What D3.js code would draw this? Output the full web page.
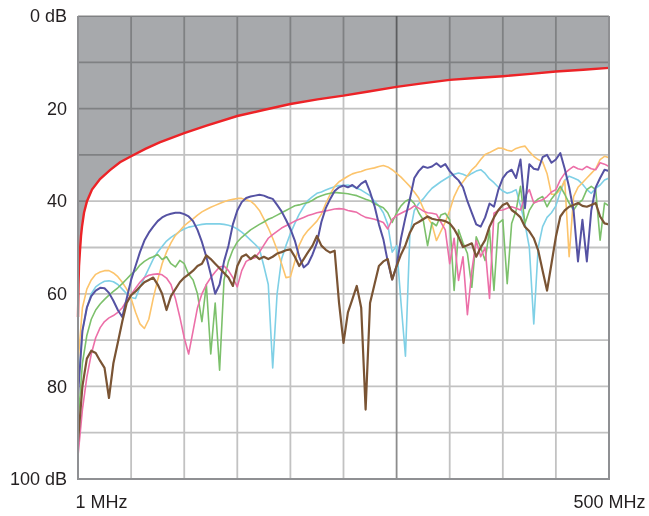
<!DOCTYPE html>
<html>
  <head>
    <script src="https://cdn.jsdelivr.net/npm/d3@7"></script>
    <style>
      body { margin: 0; background: #fff; }
      .tick text { font-family: "Liberation Sans", Arial, sans-serif; font-size: 18px; fill: #231f20; }
    </style>
  </head>
  <body>
    <script>
      // sample grid shared by every trace (MHz, log spaced)
      const freqMHz = [
        1.000, 1.053, 1.109, 1.168, 1.230, 1.296, 1.364, 1.437, 1.513, 1.594, 1.679, 1.768,
        1.862, 1.961, 2.065, 2.175, 2.291, 2.412, 2.541, 2.676, 2.818, 2.968, 3.126, 3.292,
        3.467, 3.651, 3.845, 4.049, 4.264, 4.491, 4.729, 4.981, 5.245, 5.524, 5.818, 6.127,
        6.452, 6.795, 7.156, 7.537, 7.937, 8.359, 8.803, 9.271, 9.764, 10.28, 10.83, 11.40,
        12.01, 12.65, 13.32, 14.03, 14.77, 15.56, 16.38, 17.26, 18.17, 19.14, 20.16, 21.23,
        22.36, 23.55, 24.80, 26.12, 27.51, 28.97, 30.51, 32.13, 33.84, 35.64, 37.53, 39.53,
        41.63, 43.84, 46.17, 48.63, 51.21, 53.93, 56.80, 59.82, 63.00, 66.35, 69.87, 73.59,
        77.50, 81.62, 85.96, 90.53, 95.34, 100.4, 105.7, 111.4, 117.3, 123.5, 130.1, 137.0,
        144.3, 151.9, 160.0, 168.5, 177.5, 186.9, 196.8, 207.3, 218.3, 229.9, 242.1, 255.0,
        268.5, 282.8, 297.8, 313.6, 330.3, 347.8, 366.3, 385.8, 406.3, 427.9, 450.6, 474.5,
        500
      ];

      // limit line
      const limitFreq = [1, 1.006, 1.012, 1.024, 1.036, 1.048, 1.073, 1.111, 1.178, 1.294, 1.454, 1.635,
        1.862, 2.2, 2.6, 3.467, 4.5, 6.452, 9, 12.01, 16.5, 22.36, 30, 41.63, 55, 77.5, 105, 144.3,
        200, 268.5, 370, 500];
      const limitDb = [65, 58, 54, 50.5, 47.5, 45.5, 42.5, 40, 37.5, 35.2, 33.3, 31.6,
        30.3, 28.7, 27.3, 25.3, 23.7, 21.6, 20.2, 19, 18, 17.2, 16.3, 15.3, 14.6, 13.8, 13.4, 13,
        12.5, 12, 11.6, 11.2];

      const blueDb = [
        82, 68, 63, 60.5, 59.3, 58.7, 58.8, 59.8, 61.5, 63.5, 65, 61,
        57, 54, 51, 48.5, 46.8, 45.5, 44.3, 43.5, 43, 42.7, 42.5, 42.5,
        42.8, 43.3, 44.3, 46.2, 48.8, 52, 55.8, 60, 58, 53, 49.6, 45,
        42, 40.2, 39.3, 39, 38.8, 38.6, 38.8, 39.2, 39.5, 40.8, 42.2, 44,
        46, 48.5, 52, 54.3, 53.5, 51.5, 49, 44.5, 41.5, 39.5, 37.8, 37,
        36.6, 37, 36.5, 37.2, 36.2, 35.6, 38, 41, 45, 48.2, 53, 56.9,
        54, 48, 43.5, 39.5, 35, 33.5, 32.5, 32.8, 32.5, 31.8, 32.6, 32,
        33.5, 34.6, 35.5, 37, 40, 42.5, 45, 45.5, 43.5, 40.5, 41.2, 37.5,
        35, 33.8, 33.2, 35, 31, 41.5, 32, 33, 33.2, 30.5, 30, 31.7,
        31, 29.6, 33, 37, 42, 53, 44, 53, 42, 37, 35, 33.2,
        33.5
      ];
      const orangeDb = [
        75, 63, 59, 57, 55.8, 55.3, 55, 55, 55.5, 56.3, 57.5, 59,
        61, 64, 66.5, 67.5, 65.5, 61, 57, 53.5, 51, 49, 47.4, 46.4,
        45.3, 44.5, 43.8, 43, 42.3, 41.8, 41.3, 40.9, 40.5, 40.1, 39.8, 39.6,
        39.4, 39.4, 39.7, 40, 40.8, 42, 43.8, 45.8, 48, 50.5, 53.5, 56.5,
        56.3, 53, 49.5, 47.5, 46.3, 45.3, 44.3, 42.8, 40.5, 38.5, 36.8, 35.8,
        35.2, 34.6, 34.1, 33.8, 33.6, 33.2, 33, 32.8, 32.5, 32.3, 32.6, 33.2,
        34, 34.8, 35.8, 36.8, 38, 39.3, 41.5, 43.5, 45, 48.5, 46.5, 44.5,
        42, 39, 37, 35.8, 34.5, 33.2, 32.3, 31, 29.9, 29.5, 29, 28.5,
        28.6, 29, 29.2, 28.6, 28.3, 28.1, 29.3, 30.3, 31, 31.5, 34, 38.5,
        38.5, 37.5, 35.5, 52, 39, 37, 36, 35, 34, 33, 31, 30.3,
        30.6
      ];
      const cyanDb = [
        80, 68, 63, 60, 58.5, 57.8, 57.3, 57.2, 57.4, 58, 59, 60,
        60.8, 61, 58.5, 56.5, 54.5, 52.5, 51, 49.8, 48.6, 47.8, 47.2, 46.5,
        46, 45.6, 45.4, 45.2, 45, 44.9, 44.9, 44.9, 44.9, 45, 45.2, 45.5,
        46, 46.7, 47.5, 48.4, 49.3, 50.3, 54, 58, 76, 60, 52.5, 49.6,
        47, 44.8, 42.8, 41.2, 39.8, 39, 38.3, 38, 37.6, 37.2, 36.9, 36.6,
        36.6, 36.5, 36.8, 37.2, 37.6, 38.2, 38.8, 40, 41, 42.5, 45, 51,
        49.6, 62, 73.5, 47, 42, 40.5, 39.5, 38.3, 37.2, 36.5, 35.8, 35.2,
        34.6, 34.2, 33.9, 34.2, 34.6, 34, 33.5, 33.2, 34, 35.2, 36, 37,
        37.8, 38.3, 38, 37.5, 41, 44.8, 50, 66.5, 50, 45.5, 43.5, 42.5,
        41, 38, 35.5, 34.6, 35, 35.4, 36.3, 37.5, 38.3, 37.2, 36.5, 35.4,
        35
      ];
      const greenDb = [
        88, 75, 69, 65.5, 63.5, 62.2, 61.2, 60.3, 59.5, 58.7, 57.8, 56.8,
        55.8, 55, 53.8, 53, 52.4, 52, 51.5, 52.6, 52, 53.5, 54.2, 52.8,
        53.5, 55.8, 57, 60, 66, 58, 73, 62, 76.5, 57, 53, 50.5,
        48.8, 47.8, 47, 46.2, 45.6, 45, 44.5, 43.9, 43.5, 43, 42.5, 42,
        41.5, 41, 40.8, 40.5, 40.3, 39.8, 39.2, 38.8, 38.5, 38.3, 38.1, 38.2,
        38.3, 38.4, 38.6, 38.8, 39.2, 39.6, 39.9, 40.5, 41, 41.4, 42.5, 44.6,
        42.5, 41, 40, 39.5, 40.5, 42.5, 44, 49.6, 44.6, 45.3, 43, 42.6,
        44, 59.3, 46.2, 49, 51.3, 58.6, 47.7, 50, 52.8, 46.2, 59.3, 44.8,
        44, 57.8, 44.8, 42, 36.8, 44.8, 42, 40.4, 39.5, 39, 41.2, 39.5,
        38.3, 36.8, 38.5, 40.4, 41.9, 40.5, 39.7, 37.5, 36.8, 37.5, 48.4, 40.4,
        41
      ];
      const pinkDb = [
        95, 85, 78, 73, 69.5, 67.3, 66, 65.2, 64.7, 64, 63, 61.5,
        60.2, 58.8, 57.5, 56.5, 56, 55.8, 55.7, 55.9, 56.6, 58, 61, 65,
        69.5, 73, 68, 63, 60, 58, 56.5, 55.3, 54.2, 54, 55, 56.5,
        58.5, 55, 53, 52.5, 52.2, 51, 49.5, 48, 47.2, 46.5, 45.8, 45.3,
        44.8, 44.3, 43.9, 43.5, 43.1, 42.8, 42.5, 42.3, 42.1, 41.9, 41.7, 41.6,
        41.7, 42, 42.2, 42.4, 43, 43.5, 43.7, 43.9, 44.2, 44.6, 46, 43.9,
        43.1, 42.6, 42.1, 41.7, 41, 41.5, 42.1, 42.5, 42.6, 42.8, 44.5, 46.2,
        53.5, 48, 57.1, 52, 64.5, 55, 48.5, 52, 50, 61, 42.6, 42,
        41.9, 41.5, 41.2, 41.5, 41.9, 39, 37.5, 40.4, 40, 39.7, 39, 38,
        37.5, 35.4, 34, 33.2, 32.5, 33, 33.2, 32.5, 33, 33.2, 31.7, 32,
        32.5
      ];
      const brownDb = [
        92, 80, 74, 72.3, 72.8, 74.5, 76, 82.5, 75, 70.5, 66, 62,
        60.3, 59.5, 58.5, 57.5, 57, 56.5, 58, 60, 63.5, 60.5, 59, 57.5,
        56.5, 55.8, 55, 54, 53.5, 51.7, 52.5, 53.5, 54.5, 55.5, 56.5, 58.3,
        54, 52, 51.5, 52.5, 51.7, 52.5, 52, 52.5, 52, 51.3, 51, 50.6,
        50.4, 52, 54, 52.5, 51, 49.6, 47.5, 49.6, 50.5, 51.1, 50.7, 62,
        70.6, 64, 61.2, 58.3, 63, 85, 62, 58, 54, 53, 52.5, 56.9,
        54, 51.5, 49.5, 46.8, 45, 44.5, 43.9, 43.3, 43.8, 44, 44.1, 44.3,
        44.8, 46, 47.7, 49.9, 49.5, 49.1, 52, 50, 48.4, 45.5, 43.5, 41.9,
        40.8, 40.4, 41.9, 42.6, 43.5, 45.5, 46.5, 48, 50.6, 55, 59.3, 53.5,
        47.7, 43.3, 42, 41.2, 40.8, 40.4, 41, 41.2, 40.8, 40.4, 43.3, 44.8,
        45
      ];

      const gridDb = [0, 10, 20, 30, 40, 50, 60, 70, 80, 90, 100];
      const yTicks = [0, 20, 40, 60, 80, 100];
      const yTickLabels = ['0 dB', '20', '40', '60', '80', '100 dB'];
      const xTicks = [1, 500];
      const xTickLabels = ['1 MHz', '500 MHz'];

      const series = [
        {name: 'cyan', values: cyanDb, color: '#7fd0e6', w: 1.6},
        {name: 'orange', values: orangeDb, color: '#fcc46c', w: 1.6},
        {name: 'green', values: greenDb, color: '#7cc06b', w: 1.6},
        {name: 'pink', values: pinkDb, color: '#ec6fa8', w: 1.6},
        {name: 'blue', values: blueDb, color: '#5552a3', w: 2},
        {name: 'brown', values: brownDb, color: '#7a5434', w: 2.2},
      ];

      const width = 649;
      const height = 516;
      const margin = {top: 16, right: 40, bottom: 37, left: 78};
      const innerW = width - margin.left - margin.right;
      const innerH = height - margin.top - margin.bottom;

      const svg = d3.select('body')
        .append('svg')
        .attr('width', width)
        .attr('height', height);

      const xscale = d3.scaleLog().domain([1, 500]).range([margin.left, margin.left + innerW]);
      const yscale = d3.scaleLinear().domain([0, 100]).range([margin.top, margin.top + innerH]);

      svg.append('clipPath').attr('id', 'plot')
        .append('rect')
        .attr('x', margin.left).attr('y', margin.top)
        .attr('width', innerW).attr('height', innerH);

      // shaded zone above the limit
      const limit = limitFreq.map((f, i) => [f, limitDb[i]]);
      svg.append('path')
        .datum(limit)
        .attr('fill', '#a7a9ac')
        .attr('d', d3.area()
          .x(d => xscale(d[0]))
          .y0(yscale(0))
          .y1(d => yscale(d[1])));

      // grid, multiplied so it gets darker over the grey zone
      const gridFreq = freqMHz.filter((d, i) => i % 12 === 0);
      const grid = svg.append('g').style('mix-blend-mode', 'multiply');
      grid.selectAll('line.h')
        .data(gridDb)
        .join('line')
        .attr('class', 'h')
        .attr('x1', xscale(1)).attr('x2', xscale(500))
        .attr('y1', d => yscale(d)).attr('y2', d => yscale(d))
        .attr('stroke', '#c2c2c2')
        .attr('stroke-width', 1.8);
      grid.selectAll('line.v')
        .data(gridFreq)
        .join('line')
        .attr('class', 'v')
        .attr('x1', d => xscale(d)).attr('x2', d => xscale(d))
        .attr('y1', yscale(0)).attr('y2', yscale(100))
        .attr('stroke', (d, i) => i === 6 ? '#8c8c8c' : '#c2c2c2')
        .attr('stroke-width', 1.8);

      const line = d3.line()
        .x((d, i) => xscale(freqMHz[i]))
        .y(d => yscale(d));

      svg.append('g')
        .attr('clip-path', 'url(#plot)')
        .selectAll('path')
        .data(series)
        .join('path')
        .attr('fill', 'none')
        .attr('stroke', d => d.color)
        .attr('stroke-width', d => d.w)
        .attr('stroke-linejoin', 'round')
        .attr('d', d => line(d.values));

      svg.append('path')
        .datum(limit)
        .attr('fill', 'none')
        .attr('stroke', '#ec2327')
        .attr('stroke-width', 2.4)
        .attr('d', d3.line().x(d => xscale(d[0])).y(d => yscale(d[1])));

      // frame: left, bottom, right
      svg.append('path')
        .attr('fill', 'none')
        .attr('stroke', '#8f9093')
        .attr('stroke-width', 2)
        .attr('d', `M${xscale(1)},${yscale(0)}V${yscale(100)}H${xscale(500)}V${yscale(0)}`);

      const yAxis = svg.append('g')
        .attr('transform', `translate(${margin.left},0)`)
        .call(d3.axisLeft(yscale).tickValues(yTicks)
          .tickFormat((d, i) => yTickLabels[i]).tickSize(0).tickPadding(11));
      yAxis.select('.domain').remove();

      const xAxis = svg.append('g')
        .attr('transform', `translate(0,${margin.top + innerH})`)
        .call(d3.axisBottom(xscale).tickValues(xTicks)
          .tickFormat((d, i) => xTickLabels[i]).tickSize(0).tickPadding(16));
      xAxis.select('.domain').remove();
      xAxis.selectAll('.tick text')
        .attr('text-anchor', (d, i) => i === 0 ? 'start' : 'end')
        .attr('dx', (d, i) => i === 0 ? -3 : 36);
    </script>
  </body>
</html>
